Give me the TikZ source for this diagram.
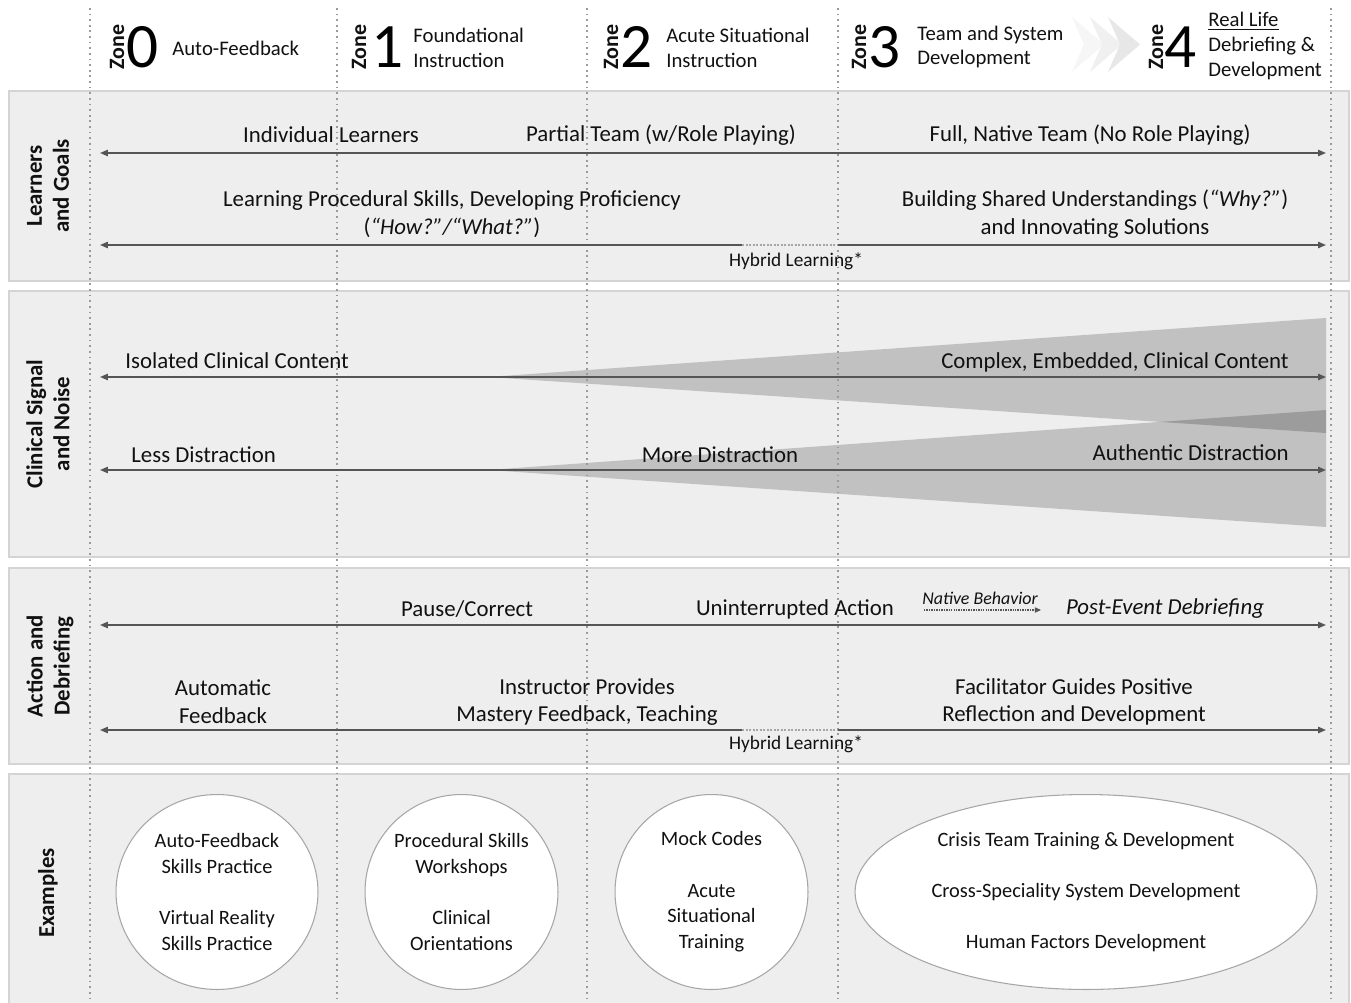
\documentclass[tikz,border=0pt]{standalone}
\usepackage{fontspec}
\setmainfont{Carlito}
\usetikzlibrary{arrows.meta, shapes.geometric, positioning}

\definecolor{bandfill}{HTML}{EEEEEE}
\definecolor{bandedge}{HTML}{D4D4D4}
\definecolor{txt}{HTML}{111111}
\definecolor{axis}{HTML}{555555}
\definecolor{zonedot}{HTML}{9A9A9A}

\begin{document}
\begin{tikzpicture}[
                x=0.02cm, y=-0.02cm,
                band/.style={draw=bandedge, fill=bandfill, line width=0.8pt},
                zoneline/.style={draw=zonedot, line width=1pt, dash pattern=on 1pt off 2.2pt},
                axisline/.style={draw=axis, line width=0.85pt, >={Triangle[length=4.5pt,width=3.6pt]}},
                hybridgap/.style={draw=gray!70, line width=0.85pt, dash pattern=on 1.2pt off 0.8pt},
                wedge/.style={fill=black, fill opacity=0.19, draw=none},
                lbl/.style={font=\fontsize{13}{15.8}\selectfont, text=txt, align=center, inner sep=0pt},
                small/.style={font=\fontsize{11}{13}\selectfont, text=txt, inner sep=0pt},
                rowtitle/.style={font=\bfseries\fontsize{13}{15.3}\selectfont, text=txt, align=center, rotate=90, inner sep=0pt},
                zoneword/.style={font=\bfseries\fontsize{12.5}{13}\selectfont, text=txt, rotate=90, inner sep=0pt},
                zonenum/.style={font=\fontsize{36}{36}\selectfont, text=black, inner sep=0pt},
                zonetext/.style={font=\fontsize{11.8}{14.2}\selectfont, text=txt, align=left, anchor=west, inner sep=0pt},
                example/.style={ellipse, draw=gray!70, fill=white, line width=0.6pt, font=\fontsize{11.6}{14.7}\selectfont, text=txt, align=center, inner sep=0pt}
            ]

            \useasboundingbox (0,0) rectangle (1351,1003);
            \fill[white] (0,0) rectangle (1351,1003);

            % Bands
            \path[band] (9,91) rectangle (1349,281);
            \path[band] (9,291) rectangle (1349,557);
            \path[band] (9,568) rectangle (1349,764);
            \path[band] (9,774) rectangle (1349,1008);

            % Wedges (signal and noise)
            \fill[wedge] (488,377) -- (1326,318) -- (1326,433) -- cycle;
            \fill[wedge] (488,470) -- (1326,410) -- (1326,527) -- cycle;

            % Zone boundaries
            \foreach \x in {90,337,587,838,1331}
            \draw[zoneline] (\x,8) -- (\x,1003);

            % Header chevrons
            \fill[gray!7]  (1072,17) -- (1104,44.5) -- (1072,72) -- (1084,44.5) -- cycle;
            \fill[gray!12] (1090,17) -- (1122,44.5) -- (1090,72) -- (1102,44.5) -- cycle;
            \fill[gray!19] (1108,17) -- (1140,44.5) -- (1108,72) -- (1120,44.5) -- cycle;

            % Zone headers
            \node[zoneword] (z0-word) at (117,47) {Zone};
            \node[zonenum] (z0-num) at (143,47) {0};
            \node[zonetext] (z0-text) at (172,48) {Auto-Feedback};

            \node[zoneword] (z1-word) at (359,47) {Zone};
            \node[zonenum] (z1-num) at (388,47) {1};
            \node[zonetext] (z1-text) at (413,48) {Foundational\\Instruction};

            \node[zoneword] (z2-word) at (611,47) {Zone};
            \node[zonenum] (z2-num) at (637,47) {2};
            \node[zonetext] (z2-text) at (666,48) {Acute Situational\\Instruction};

            \node[zoneword] (z3-word) at (859,47) {Zone};
            \node[zonenum] (z3-num) at (885,47) {3};
            \node[zonetext] (z3-text) at (917,47) {Team and System\\Development};

            \node[zoneword] (z4-word) at (1156,47) {Zone};
            \node[zonenum] (z4-num) at (1181,47) {4};
            \node[zonetext] (z4-text) at (1208,46) {\underline{Real Life}\\Debriefing \&\\Development};

            % Row titles
            \node[rowtitle] (row-learners) at (48,186) {Learners\\and Goals};
            \node[rowtitle] (row-signal) at (48,424) {Clinical Signal\\and Noise};
            \node[rowtitle] (row-action) at (50,666) {Action and\\Debriefing};
            \node[rowtitle] (row-examples) at (48,893) {Examples};

            % Axis end points
            \foreach \n/\y in {a1/153,a2/245,a3/377,a4/470,a5/625,a6/730}
            {
              \coordinate (\n-w) at (100,\y);
              \coordinate (\n-e) at (1326,\y);
            }
            \coordinate (a2-gapw) at (742,245);
            \coordinate (a2-gape) at (838,245);
            \coordinate (a6-gapw) at (742,730);
            \coordinate (a6-gape) at (838,730);

            % Axes
            \draw[axisline, <->] (a1-w) -- (a1-e);
            \draw[axisline, <-] (a2-w) -- (a2-gapw);
            \draw[hybridgap] (a2-gapw) -- (a2-gape);
            \draw[axisline, ->] (a2-gape) -- (a2-e);
            \draw[axisline, <->] (a3-w) -- (a3-e);
            \draw[axisline, <->] (a4-w) -- (a4-e);
            \draw[axisline, <->] (a5-w) -- (a5-e);
            \draw[axisline, <-] (a6-w) -- (a6-gapw);
            \draw[hybridgap] (a6-gapw) -- (a6-gape);
            \draw[axisline, ->] (a6-gape) -- (a6-e);

            % Learners and goals
            \node[lbl] (individual) at (331,135) {Individual Learners};
            \node[lbl] (partial) at (661,135) {Partial Team (w/Role Playing)};
            \node[lbl] (full) at (1090,135) {Full, Native Team (No Role Playing)};
            \node[lbl] (procedural) at (452,214) {Learning Procedural Skills, Developing Proficiency\\(\textit{“How?”/“What?”})};
            \node[lbl] (shared) at (1095,214) {Building Shared Understandings (\textit{“Why?”})\\and Innovating Solutions};
            \node[small] (hybrid-1) at (796,261) {Hybrid Learning*};

            % Clinical signal and noise
            \node[lbl, anchor=west] (isolated) at (125,361) {Isolated Clinical Content};
            \node[lbl, anchor=east] (complex) at (1289,362) {Complex, Embedded, Clinical Content};
            \node[lbl, anchor=west] (less) at (131,455) {Less Distraction};
            \node[lbl] (more) at (720,455) {More Distraction};
            \node[lbl, anchor=east] (authentic) at (1289,453) {Authentic Distraction};

            % Action and debriefing
            \node[lbl] (pause) at (467,609) {Pause/Correct};
            \node[lbl] (uninterrupted) at (795,609) {Uninterrupted Action};
            \node[lbl, font=\itshape\fontsize{10.2}{12}\selectfont] (native) at (980,598) {Native Behavior};
            \coordinate (native-w) at (924,610);
            \coordinate (native-e) at (1041,610);
            \draw[draw=axis, line width=0.6pt, dash pattern=on 0.8pt off 0.6pt, -{Triangle[length=3.5pt,width=3pt]}] (native-w) -- (native-e);
            \node[lbl, font=\itshape\fontsize{13}{15.8}\selectfont] (post-event) at (1165,609) {Post-Event Debriefing};
            \node[lbl] (automatic) at (223,702) {Automatic\\Feedback};
            \node[lbl] (instructor) at (587,702) {Instructor Provides\\Mastery Feedback, Teaching};
            \node[lbl] (facilitator) at (1074,702) {Facilitator Guides Positive\\Reflection and Development};
            \node[small] (hybrid-2) at (796,744) {Hybrid Learning*};

            % Examples
            \node[example, minimum width=4.04cm, minimum height=3.9cm] (ex-0) at (217,892)
              {Auto-Feedback\\Skills Practice\\[14pt]Virtual Reality\\Skills Practice};
            \node[example, minimum width=3.86cm, minimum height=3.9cm] (ex-1) at (461.5,892)
              {Procedural Skills\\Workshops\\[14pt]Clinical\\Orientations};
            \node[example, minimum width=3.86cm, minimum height=3.9cm] (ex-2) at (711.5,892)
              {Mock Codes\\[14.5pt]Acute\\Situational\\Training};
            \node[example, minimum width=9.24cm, minimum height=3.9cm] (ex-34) at (1086,892)
              {Crisis Team Training \& Development\\[14.5pt]Cross-Speciality System Development\\[14.5pt]Human Factors Development};

        \end{tikzpicture}
\end{document}
